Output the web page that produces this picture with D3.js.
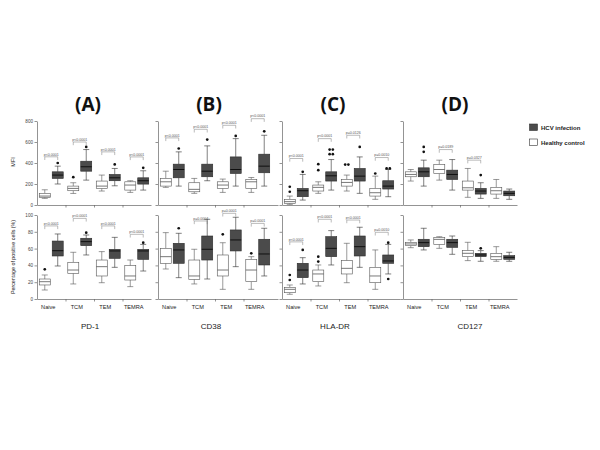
<!DOCTYPE html>
<html><head><meta charset="utf-8">
<script src="https://cdn.jsdelivr.net/npm/d3@7"></script>
<style>body{margin:0;background:#fff}svg{display:block}</style>
</head><body><svg id="c" width="600" height="450"></svg>
<script>
// ---------- data ----------
const markers = ["PD-1","CD38","HLA-DR","CD127"];
const panelTags = ["(A)","(B)","(C)","(D)"];
const categories = ["Naive","TCM","TEM","TEMRA"];
const groups = ["Healthy control","HCV infection"];
const mfiTicks = [0,200,400,600,800];
const pctTicks = [0,20,40,60,80,100];
const rowLabels = ["MFI","Percentage of positive cells (%)"];

// each box: [lowWhisker, q1, median, q3, highWhisker, [outliers]]
const pd1MfiHealthy = [[63,73,85,110,145,[]],[110,136,158,180,212,[265]],[133,158,180,228,285,[]],[120,142,190,221,231,[]]];
const pd1MfiHcv     = [[200,253,285,316,370,[400]],[237,322,364,417,528,[553]],[183,231,259,291,348,[386]],[142,199,231,259,326,[354]]];
const pd1MfiP       = [["p<0.0001",459],["p<0.0001",600],["p<0.0001",506],["p<0.0001",458]];
const pd1PctHealthy = [[10.7,16.7,20.6,23.8,28.6,[35.3]],[17.9,30.6,34.5,43.7,55.6,[]],[19.4,27.4,38.5,46.4,56.4,[]],[14.7,22.6,27.4,39.7,46.4,[]]];
const pd1PctHcv     = [[39.3,51.2,57.5,69,77.4,[]],[52.4,63.5,68.3,72.3,76.2,[79]],[37.7,48.4,57.2,59.1,73.4,[]],[33.3,47.2,57.2,59.1,65,[67]]];
const pd1PctP       = [["p<0.0001",87],["p<0.0001",96],["p<0.0001",87],["p<0.0001",77]];

const cd38MfiHealthy = [[168,180,221,253,322,[]],[111,126,149,212,253,[]],[120,158,190,221,247,[]],[120,158,221,243,262,[]]];
const cd38MfiHcv     = [[180,259,338,389,506,[538]],[231,269,322,389,563,[623]],[180,300,338,458,632,[658]],[180,307,370,484,664,[702]]];
const cd38MfiP       = [["p<0.0001",639],["p<0.0001",721],["p<0.0001",759],["p<0.0001",822]];
const cd38PctHealthy = [[35.7,42.5,50.4,60.3,79,[]],[17.9,23.4,27.4,46.4,59.2,[]],[11.5,27.4,34.5,52.4,67,[77]],[11.5,20.6,34.5,47.2,50.4,[54.4]]];
const cd38PctHcv     = [[25.4,42.5,58.4,66.3,78.2,[84.2]],[23.8,46.4,59.2,75,94.9,[]],[38.5,57.2,70.3,82.2,97.3,[]],[27.4,40.5,53.6,71.1,84.2,[]]];
const cd38PctP       = [null,["p=0.0004",92.9],["p=0.0001",102],["p=0.0001",90]];

const hlaMfiHealthy = [[6,16,32,54,85,[126,174]],[111,133,168,190,221,[332,389]],[133,180,215,243,285,[385,385]],[54,85,117,158,275,[300]]];
const hlaMfiHcv     = [[47,79,136,158,291,[316]],[142,228,278,316,433,[484,484,528,528]],[111,228,275,348,458,[553]],[79,152,180,231,338,[348,348]]];
const hlaMfiP       = [["p<0.0001",443],["p<0.0001",632],["p=0.0126",664],["p=0.0010",452]];
const hlaPctHealthy = [[5.6,7.5,11.5,13.9,16.7,[22.6,28.6]],[15.5,20.6,29.8,34.5,40.5,[44.5,50.4]],[19.4,29.8,36.5,45.7,66.3,[]],[11.5,19.4,27.4,37.7,58.4,[]]];
const hlaPctHcv     = [[17.9,25.4,34.5,42.5,49.2,[58.4]],[40.5,50.4,60.3,74.2,81.4,[]],[37.7,51.2,62.3,75,85.4,[]],[29.8,42.5,45.3,52.4,65,[67,23.8]]];
const hlaPctP       = [["p<0.0001",68],["p<0.0001",94.9],["p<0.0001",94],["p=0.0010",79.4]];

const cd127MfiHealthy = [[228,269,291,316,338,[]],[237,300,338,386,427,[]],[73,142,164,228,348,[]],[63,104,136,168,243,[]]];
const cd127MfiHcv     = [[180,269,316,354,427,[506,553]],[142,243,291,332,433,[]],[63,104,133,158,212,[285]],[54,88,111,133,152,[]]];
const cd127MfiP       = [null,["p=0.0189",528],["p=0.0327",427],null];
const cd127PctHealthy = [[61.1,63.5,65.5,67.5,70.3,[]],[60.3,65.1,71,73,74.2,[]],[45.7,50.4,54.4,57.6,67.5,[]],[44.9,47.2,50.4,54.4,62.3,[]]];
const cd127PctHcv     = [[58.4,62.3,67.1,71.1,84.2,[]],[53.2,61.5,67.1,71.1,75,[]],[44.9,50.4,52.4,54.4,57.6,[60.3]],[44.9,47.2,49.6,51.6,55.6,[]]];
const cd127PctP       = [null,null,null,null];

// ---------- layout ----------
const panelData = [
  [[pd1MfiHealthy,pd1MfiHcv,pd1MfiP],[pd1PctHealthy,pd1PctHcv,pd1PctP]],
  [[cd38MfiHealthy,cd38MfiHcv,cd38MfiP],[cd38PctHealthy,cd38PctHcv,cd38PctP]],
  [[hlaMfiHealthy,hlaMfiHcv,hlaMfiP],[hlaPctHealthy,hlaPctHcv,hlaPctP]],
  [[cd127MfiHealthy,cd127MfiHcv,cd127MfiP],[cd127PctHealthy,cd127PctHcv,cd127PctP]]
];
const panelX = [37,158,282,403];
const axisExt = [0,6,4,0];
const plotW = 114;
const rowY = [[205,121],[299,215]];
const rowMax = [800,100];
const rowTicks = [mfiTicks,pctTicks];
const boxW = 11;
const darkFill = "#4b4b4b";

const svg = d3.select("#c");
const font = "Liberation Sans, Arial, sans-serif";

markers.forEach((m,pi)=>{
  const x0 = panelX[pi];
  const xBand = d3.scaleBand().domain(categories).range([x0,x0+plotW]).paddingInner(0).paddingOuter(0);
  const xGrp = d3.scalePoint().domain(groups).range([0,xBand.bandwidth()]).padding(0.6);
  const bw = xBand.bandwidth();

  // title
  svg.append("text").attr("x",x0+plotW/2-6+ (pi===3?1:0)).attr("y",111).attr("text-anchor","middle")
    .attr("font-family","Open Sans, sans-serif").attr("font-weight",700).attr("font-size",19).attr("fill","#111").text(panelTags[pi]);
  // marker label
  svg.append("text").attr("x",x0+plotW/2-4+(pi===3?14:0)).attr("y",329).attr("text-anchor","middle")
    .attr("font-family",font).attr("font-size",8).attr("fill","#222").text(m);

  [0,1].forEach(ri=>{
    const [healthy,hcv,pv] = panelData[pi][ri];
    const y = d3.scaleLinear().domain([0,rowMax[ri]]).range(rowY[ri]);
    const g = svg.append("g");

    // y axis
    const ya = d3.axisLeft(y).tickValues(rowTicks[ri]).tickSize(2.5).tickSizeOuter(0).tickPadding(1.5);
    if(pi!==0) ya.tickFormat("");
    const yg = g.append("g").attr("transform",`translate(${x0},0)`).call(ya);
    yg.selectAll("path,line").attr("stroke","#666").attr("stroke-width",0.7);
    yg.selectAll("text").attr("font-size",4.6).attr("font-family",font).attr("fill","#444");

    // x axis
    const xl = d3.scaleLinear().domain([0,plotW+axisExt[pi]]).range([x0,x0+plotW+axisExt[pi]]);
    const xa = d3.axisBottom(xl).tickValues([bw,2*bw,3*bw]).tickSize(2.5).tickSizeOuter(0).tickFormat("");
    const xg = g.append("g").attr("transform",`translate(0,${rowY[ri][0]})`).call(xa);
    xg.selectAll("path,line").attr("stroke","#666").attr("stroke-width",0.7);

    if(ri===1){
      categories.forEach(c=>{
        g.append("text").attr("x",xBand(c)+bw/2-3).attr("y",309).attr("text-anchor","middle")
          .attr("font-family",font).attr("font-size",5.6).attr("fill","#222").text(c);
      });
    }

    // boxes
    [healthy,hcv].forEach((series,gi)=>{
      const dark = gi===1;
      series.forEach((b,ci)=>{
        const cx = xBand(categories[ci])+xGrp(groups[gi]);
        const [lo,q1,med,q3,hi,outs] = b;
        const stroke = dark ? "#2b2b2b" : "#555";
        // whiskers
        g.append("line").attr("x1",cx).attr("x2",cx).attr("y1",y(hi)).attr("y2",y(q3)).attr("stroke",stroke).attr("stroke-width",0.6);
        g.append("line").attr("x1",cx).attr("x2",cx).attr("y1",y(q1)).attr("y2",y(lo)).attr("stroke",stroke).attr("stroke-width",0.6);
        [lo,hi].forEach(v=>g.append("line").attr("x1",cx-3).attr("x2",cx+3).attr("y1",y(v)).attr("y2",y(v)).attr("stroke",stroke).attr("stroke-width",0.6));
        g.append("rect").attr("x",cx-boxW/2).attr("width",boxW).attr("y",y(q3)).attr("height",Math.max(0.5,y(q1)-y(q3)))
          .attr("fill",dark?darkFill:"#fff").attr("stroke",stroke).attr("stroke-width",0.6);
        g.append("line").attr("x1",cx-boxW/2).attr("x2",cx+boxW/2).attr("y1",y(med)).attr("y2",y(med))
          .attr("stroke",dark?"#000":"#555").attr("stroke-width",0.8);
        // outliers (duplicates side by side)
        const counts = {};
        outs.forEach(v=>counts[v]=(counts[v]||0)+1);
        const seen = {};
        outs.forEach(v=>{
          const n = counts[v]; const k = (seen[v]=(seen[v]||0)+1)-1;
          const dx = (k-(n-1)/2)*3.2;
          g.append("circle").attr("cx",cx+dx).attr("cy",y(v)).attr("r",1.35).attr("fill","#111");
        });
      });
    });

    // p-value brackets
    pv.forEach((p,ci)=>{
      if(!p) return;
      const xa1 = xBand(categories[ci])+xGrp(groups[0]);
      const xa2 = xBand(categories[ci])+xGrp(groups[1]);
      const yy = y(p[1]);
      g.append("path").attr("d",`M${xa1},${yy+3.2}V${yy}H${xa2}V${yy+3.2}`).attr("fill","none").attr("stroke","#777").attr("stroke-width",0.5);
      g.append("text").attr("x",(xa1+xa2)/2).attr("y",yy-1.3).attr("text-anchor","middle")
        .attr("font-family",font).attr("font-size",3.6).attr("fill","#555").text(p[0]);
    });
  });
});

// row labels
svg.append("text").attr("transform","translate(15,162) rotate(-90)").attr("text-anchor","middle")
  .attr("font-family",font).attr("font-size",5.5).attr("fill","#222").text(rowLabels[0]);
svg.append("text").attr("transform","translate(15,257) rotate(-90)").attr("text-anchor","middle")
  .attr("font-family",font).attr("font-size",5.3).attr("fill","#222").text(rowLabels[1]);

// legend
const leg = [[groups[1],darkFill,124],[groups[0],"#fff",139]];
leg.forEach(([t,f,yy])=>{
  svg.append("rect").attr("x",529.5).attr("y",yy).attr("width",8).attr("height",6.5).attr("fill",f).attr("stroke","#333").attr("stroke-width",0.6);
  svg.append("text").attr("x",541).attr("y",yy+5.5).attr("font-family",font).attr("font-weight",700).attr("font-size",6)
    .attr("fill","#222").text(t);
});
</script></body></html>
